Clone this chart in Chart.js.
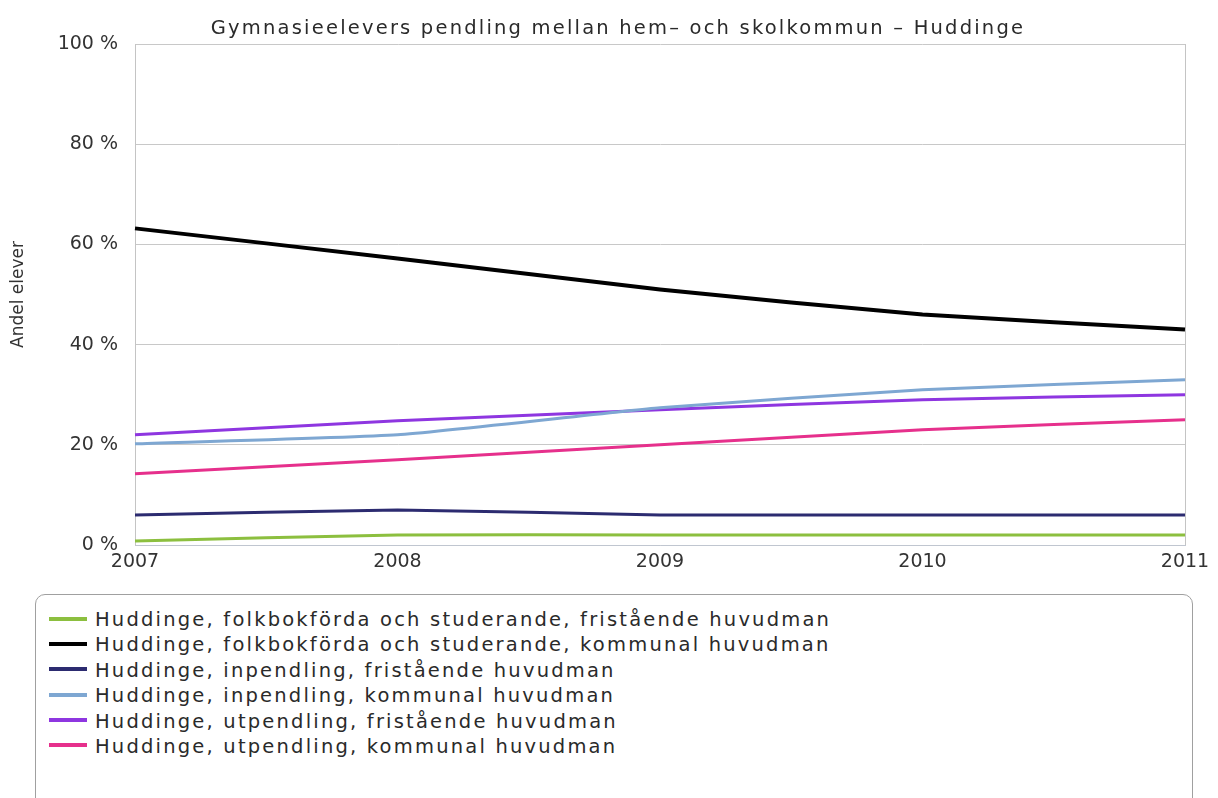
<!DOCTYPE html>
<html>
<head>
<meta charset="utf-8">
<script src="https://cdn.jsdelivr.net/npm/chart.js@4.4.1/dist/chart.umd.min.js"></script>
<style>
  html, body { margin: 0; padding: 0; background: #fff; overflow: hidden; }
  #wrap { position: relative; width: 1218px; height: 798px; }
  #chart { position: absolute; left: 0; top: 0; }
  #legend {
    position: absolute; left: 35px; top: 594px; width: 1158px; height: 240px;
    border: 1px solid #a0a0a0; border-radius: 10px; box-sizing: border-box;
    padding: 12px 0 0 13px;
    font-family: "DejaVu Sans", sans-serif; font-size: 19.5px; letter-spacing: 2.2px; color: #2a2a2a;
  }
  .row { height: 25.4px; line-height: 25.4px; white-space: nowrap; }
  .sw { display: inline-block; width: 38px; height: 4px; vertical-align: middle; margin-right: 8px; position: relative; top: -2px; }
</style>
</head>
<body>
<div id="wrap">
  <canvas id="chart" width="1218" height="590"></canvas>
  <div id="legend"></div>
</div>
<script>
const years = ['2007', '2008', '2009', '2010', '2011'];

const seriesNames = [
  'Huddinge, folkbokförda och studerande, fristående huvudman',
  'Huddinge, folkbokförda och studerande, kommunal huvudman',
  'Huddinge, inpendling, fristående huvudman',
  'Huddinge, inpendling, kommunal huvudman',
  'Huddinge, utpendling, fristående huvudman',
  'Huddinge, utpendling, kommunal huvudman'
];

const folkFristaende = [0.8, 2, 2, 2, 2];
const folkKommunal = [63.2, 57.2, 51, 46, 43];
const inFristaende = [6, 7, 6, 6, 6];
const inKommunal = [20.2, 22, 27.4, 31, 33];
const utFristaende = [22, 24.8, 27, 29, 30];
const utKommunal = [14.2, 17, 20, 23, 25];

const colors = ['#8cbf3f', '#000000', '#2c2b70', '#7ea7d2', '#8e36e0', '#e6308c'];
const widths = [3, 4, 3, 3, 3, 3];
const values = [folkFristaende, folkKommunal, inFristaende, inKommunal, utFristaende, utKommunal];

const titleText = 'Gymnasieelevers pendling mellan hem– och skolkommun – Huddinge';
const font = 'DejaVu Sans';

const datasets = values.map((v, i) => ({
  label: seriesNames[i],
  data: v,
  borderColor: colors[i],
  backgroundColor: colors[i],
  borderWidth: widths[i],
  pointRadius: 0,
  tension: 0.15,
  fill: false
}));

// black line drawn last so it sits on top
const order = [0, 2, 3, 4, 5, 1];
const ordered = order.map(i => datasets[i]);

// the title in the picture is loosely spaced, so draw it by hand
const spacedTitle = {
  id: 'spacedTitle',
  afterDraw(chart) {
    const ctx = chart.ctx;
    ctx.save();
    ctx.font = '19.5px "' + font + '"';
    ctx.letterSpacing = '2.2px';
    ctx.fillStyle = '#2a2a2a';
    ctx.textAlign = 'center';
    ctx.textBaseline = 'middle';
    ctx.fillText(titleText, 618, 29);
    ctx.restore();
  }
};

const chart = new Chart(document.getElementById('chart'), {
  type: 'line',
  data: { labels: years, datasets: ordered },
  plugins: [spacedTitle],
  options: {
    responsive: false,
    animation: false,
    layout: { padding: { left: 0, right: 33, top: 44, bottom: 0 } },
    plugins: {
      legend: { display: false },
      tooltip: { enabled: false },
      title: { display: false }
    },
    scales: {
      x: {
        offset: false,
        afterFit: s => { s.height = 45; },
        grid: {
          drawTicks: false,
          color: c => (c.index === years.length - 1 ? '#c4c4c4' : 'rgba(0,0,0,0)')
        },
        border: { color: '#c0c6d0', width: 1 },
        ticks: {
          color: '#333',
          font: { family: font, size: 19 },
          padding: 6,
          maxRotation: 0
        }
      },
      y: {
        min: 0,
        max: 100,
        afterFit: s => { s.width = 135; },
        grid: {
          drawTicks: false,
          color: c => (c.tick.value % 20 === 0 ? '#c8c8c8' : '#eeeeee')
        },
        border: { color: '#c4c4c4', width: 1 },
        title: {
          display: true,
          text: 'Andel elever',
          color: '#333',
          font: { family: font, size: 17 },
          padding: { top: 8, bottom: 0 }
        },
        ticks: {
          stepSize: 10,
          color: '#333',
          font: { family: font, size: 19 },
          padding: 17,
          callback: v => (v % 20 === 0 ? v + ' %' : null)
        }
      }
    }
  }
});

const legendEl = document.getElementById('legend');
datasets.forEach(d => {
  const row = document.createElement('div');
  row.className = 'row';
  const sw = document.createElement('span');
  sw.className = 'sw';
  sw.style.background = d.borderColor;
  row.appendChild(sw);
  row.appendChild(document.createTextNode(d.label));
  legendEl.appendChild(row);
});
</script>
</body>
</html>
